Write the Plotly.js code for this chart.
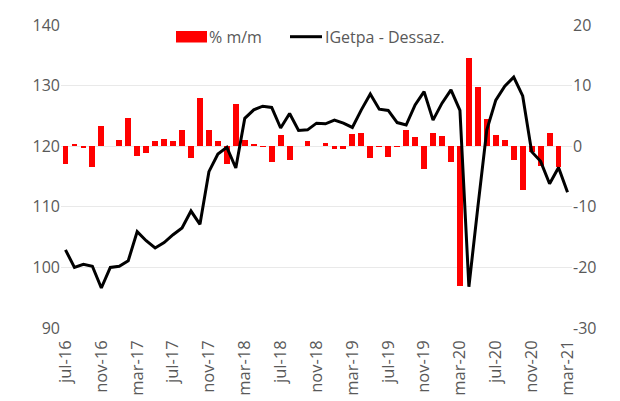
<!DOCTYPE html>
<html>
<head>
<meta charset="utf-8">
<script src="https://cdn.plot.ly/plotly-3.0.1.min.js"></script>
<style>html,body{margin:0;padding:0;background:#fff;}#chart{width:620px;height:401px;}</style>
</head>
<body>
<div id="chart"></div>
<script>
var months = ["jul-16","aug-16","sep-16","oct-16","nov-16","dec-16","jan-17","feb-17","mar-17","apr-17","may-17","jun-17",
  "jul-17","aug-17","sep-17","oct-17","nov-17","dec-17","jan-18","feb-18","mar-18","apr-18","may-18","jun-18",
  "jul-18","aug-18","sep-18","oct-18","nov-18","dec-18","jan-19","feb-19","mar-19","apr-19","may-19","jun-19",
  "jul-19","aug-19","sep-19","oct-19","nov-19","dec-19","jan-20","feb-20","mar-20","apr-20","may-20","jun-20",
  "jul-20","aug-20","sep-20","oct-20","nov-20","dec-20","jan-21","feb-21","mar-21"];

var igetpa = [102.9,100.0,100.5,100.2,96.6,100.0,100.2,101.1,105.9,104.4,103.2,104.1,
  105.4,106.5,109.3,107.1,115.8,118.7,119.8,116.4,124.6,126.0,126.6,126.4,
  123.0,125.4,122.6,122.7,123.8,123.7,124.3,123.8,123.1,126.0,128.6,126.1,
  125.9,123.9,123.5,126.8,129.0,124.3,127.1,129.3,125.9,96.8,110.0,122.7,
  127.6,129.9,131.4,128.3,119.1,117.5,113.8,116.5,112.4];

var mm = [-2.9,0.4,-0.3,-3.5,3.3,0.1,1.0,4.6,-1.6,-1.2,0.8,1.15,
  0.9,2.6,-1.9,8.0,2.6,0.8,-3.0,7.0,1.0,0.4,-0.1,-2.6,
  1.9,-2.2,0.1,0.8,0.05,0.5,-0.5,-0.4,2.0,2.1,-1.9,-0.2,
  -1.7,-0.2,2.7,1.5,-3.7,2.1,1.65,-2.6,-23.1,14.6,9.8,4.5,
  1.9,1.0,-2.25,-7.2,-1.0,-3.2,2.25,-3.35];

var tickLabels = ["jul-16","nov-16","mar-17","jul-17","nov-17","mar-18","jul-18","nov-18","mar-19","jul-19","nov-19","mar-20","jul-20","nov-20","mar-21"];
var leftTicks = [90,100,110,120,130,140];
var rightTicks = [-30,-20,-10,0,10,20];
var rightTickText = ["-30","-20","-10","0","10","20"];
var seriesNames = ["% m/m","IGetpa - Dessaz."];

var idxLine = months.map(function(m,i){return i;});
var idxBar = mm.map(function(v,i){return i;});
var tickVals = tickLabels.map(function(t){return months.indexOf(t);});

var fontFam = '"Open Sans", "Noto Sans", sans-serif';
var grey = '#595959';

var traces = [
  {type:'bar', name:seriesNames[0], x:idxBar, y:mm, yaxis:'y', width:0.65,
   marker:{color:'#ff0000'}, showlegend:false},
  {type:'scatter', mode:'lines', name:seriesNames[1], x:idxLine, y:igetpa, yaxis:'y2',
   line:{color:'#000000', width:3}, showlegend:false}
];

// plot-area pixel helpers for the hand-drawn legend
var L = 61, R = 48, T = 25, B = 73, W = 620, H = 401;
function px(x){ return (x - L) / (W - L - R); }
function py(y){ return (H - B - y) / (H - T - B); }

var layout = {
  width:W, height:H,
  margin:{l:L, r:R, t:T, b:B},
  paper_bgcolor:'#ffffff', plot_bgcolor:'#ffffff',
  font:{family:fontFam, color:grey, size:16},
  showlegend:false,
  bargap:0,
  xaxis:{range:[-0.5,56.5], tickmode:'array', tickvals:tickVals, ticktext:tickLabels,
    tickangle:-90, showgrid:false, zeroline:false, showline:false, ticks:'', ticklabelstandoff:8,
    tickfont:{family:fontFam, color:grey, size:16.5}, fixedrange:true},
  yaxis:{side:'right', range:[-30,20], tickmode:'array', tickvals:rightTicks, ticktext:rightTickText,
    showgrid:true, gridcolor:'#e9e9e9', gridwidth:1,
    zeroline:false, showline:false, ticks:'', tickfont:{family:fontFam, color:grey, size:16}},
  yaxis2:{overlaying:'y', side:'left', range:[90,140], tickmode:'array', tickvals:leftTicks, showgrid:false,
    zeroline:false, showline:false, ticks:'', tickfont:{family:fontFam, color:grey, size:16}},
  shapes:[
    {type:'rect', xref:'paper', yref:'paper', x0:px(176), x1:px(207), y0:py(42.5), y1:py(31),
     fillcolor:'#ff0000', line:{width:0}},
    {type:'line', xref:'paper', yref:'paper', x0:px(290), x1:px(322), y0:py(36.7), y1:py(36.7),
     line:{color:'#000000', width:3}}
  ],
  annotations:[
    {xref:'paper', yref:'paper', x:px(207), y:py(37), xanchor:'left', yanchor:'middle', showarrow:false,
     text:seriesNames[0], font:{family:fontFam, color:grey, size:16}},
    {xref:'paper', yref:'paper', x:px(323), y:py(37), xanchor:'left', yanchor:'middle', showarrow:false,
     text:seriesNames[1], font:{family:fontFam, color:grey, size:16}}
  ]
};

Plotly.newPlot('chart', traces, layout, {staticPlot:true, displayModeBar:false});
</script>
</body>
</html>
